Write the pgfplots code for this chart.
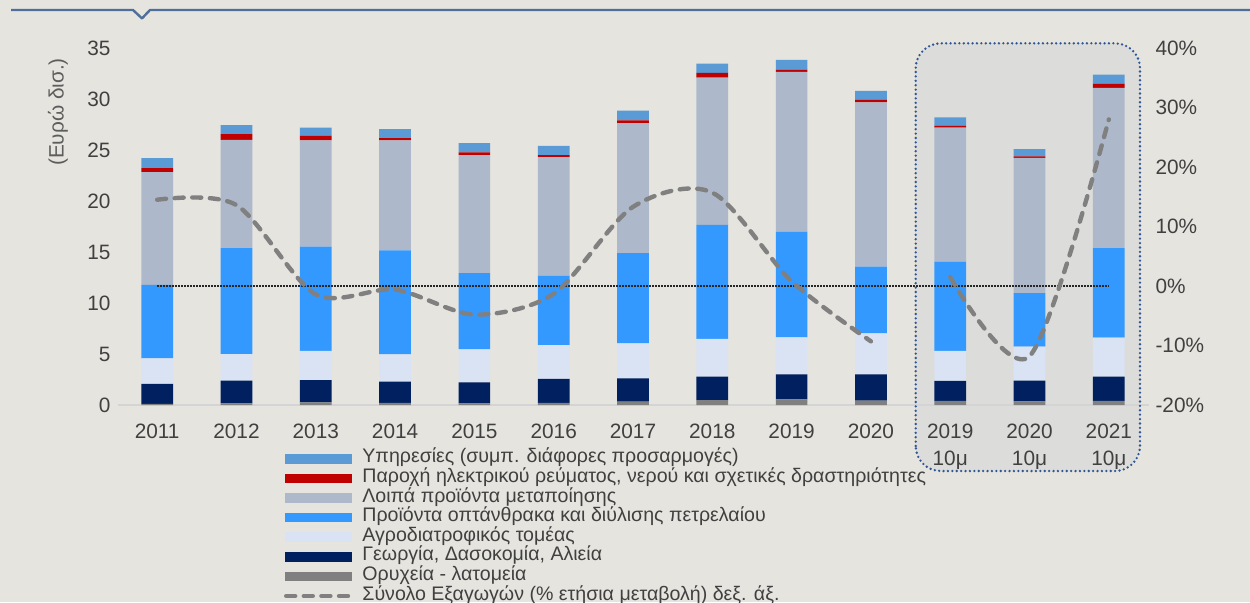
\documentclass[border=0pt]{standalone}
\usepackage{fontspec}
\setmainfont{Liberation Sans}
\usepackage{pgfplots}
\usepackage{pgfplotstable}
\pgfplotsset{compat=1.18}
\definecolor{bg}{HTML}{E5E4DF}
\definecolor{boxfill}{HTML}{DCDDDA}
\definecolor{boxline}{HTML}{2F5597}
\definecolor{topline}{HTML}{4F6F9A}
\definecolor{cServ}{HTML}{5B9BD5}
\definecolor{cElec}{HTML}{C00000}
\definecolor{cOther}{HTML}{ADB9CA}
\definecolor{cOil}{HTML}{3399FF}
\definecolor{cAgro}{HTML}{DAE3F3}
\definecolor{cAgri}{HTML}{002060}
\definecolor{cMin}{HTML}{808080}
\definecolor{cLine}{HTML}{808080}
\definecolor{txt}{HTML}{404040}
\definecolor{axl}{HTML}{D4D4D4}

\pgfplotsset{
  barlegend/.style={legend image code/.code={\path[##1,draw=none] (0pt,-2.4pt) rectangle (33.5pt,2.4pt); \path (37.8pt,0pt);}},
  linelegend/.style={legend image code/.code={\draw[##1] (0.8pt,0pt) -- (33pt,0pt); \path (37.8pt,0pt);}},
}

\pgfplotstableread{
x mining agri agro oil other elec serv
0  0.10 1.96 2.52 7.20 11.05 0.39 0.98
1  0.15 2.24 2.61 10.38 10.62 0.56 0.89
2  0.25 2.20 2.85 10.24 10.40 0.46 0.80
3  0.20 2.09 2.68 10.18 10.79 0.23 0.88
4  0.15 2.07 3.24 7.46 11.58 0.26 0.92
5  0.20 2.35 3.31 6.80 11.64 0.20 0.90
6  0.33 2.29 3.43 8.83 12.76 0.26 0.95
7  0.49 2.29 3.70 11.18 14.44 0.45 0.91
8  0.56 2.45 3.63 10.36 15.65 0.22 0.96
9  0.42 2.59 4.02 6.54 16.10 0.26 0.87
10 0.40 1.96 2.94 8.76 13.14 0.20 0.80
11 0.35 2.04 3.33 5.24 13.28 0.13 0.72
12 0.40 2.38 3.82 8.78 15.70 0.42 0.88
}\bars

\pgfplotstableread{
x chg
0 14.5
1 13.6
2 -1.4
3 -0.6
4 -4.8
5 -1.3
6 13.3
7 15.7
8 0.8
9 -9.3
}\lineA

\pgfplotstableread{
x chg
10 1.5
11 -11.8
12 28.0
}\lineB

\begin{document}
\begin{tikzpicture}[x=1pt,y=1pt]
\fill[bg] (0,0) rectangle (625,301);
% top decorative line
\draw[topline, line width=1.2pt, line join=round] (5.5,296) -- (66.5,296) -- (71,291.8) -- (75,296) -- (625,296);
% highlight box fill
\fill[boxfill, rounded corners=12.5pt] (457.85,65.5) rectangle (570,279.35);

\begin{axis}[
  at={(58.75pt,98.5pt)}, anchor=south west,
  scale only axis, width=515.5pt, height=178.5pt,
  xmin=-0.5, xmax=12.5, ymin=0, ymax=35,
  ybar stacked, bar width=0.4,
  axis line style={draw=none}, major tick length=0pt,
  xtick={0,...,12},
  xticklabels={2011,2012,2013,2014,2015,2016,2017,2018,2019,2020,{2019\\10μ},{2020\\10μ},{2021\\10μ}},
  xticklabel style={align=center, font=\fontsize{10.4}{13.2}\selectfont, text=txt, yshift=-6.2pt},
  ytick={0,5,10,15,20,25,30,35},
  yticklabels={0,5,10,15,20,25,30,35},
  yticklabel style={font=\fontsize{10.4}{12}\selectfont, text=txt},
  clip=false,
  reverse legend,
  legend cell align=left,
  legend style={at={(0.1615,-0.1232)}, anchor=north west, draw=none, fill=none,
    inner sep=0pt, outer sep=0pt, row sep=0pt, column sep=0pt,
    font=\fontsize{9.8}{9.8}\selectfont, text=txt,
    nodes={inner sep=0pt, text height=7pt, text depth=2.8pt}},
  barlegend,
]
\addlegendimage{linelegend, cLine, line width=2.2pt, line cap=round, dash pattern=on 4.5pt off 4.3pt}
\addlegendentry{Σύνολο Εξαγωγών (\% ετήσια μεταβολή) δεξ. άξ.}
\addplot[fill=cMin, draw=none] table[x=x, y=mining]{\bars};
\addlegendentry{Ορυχεία - λατομεία}
\addplot[fill=cAgri, draw=none] table[x=x, y=agri]{\bars};
\addlegendentry{Γεωργία, Δασοκομία, Αλιεία}
\addplot[fill=cAgro, draw=none] table[x=x, y=agro]{\bars};
\addlegendentry{Αγροδιατροφικός τομέας}
\addplot[fill=cOil, draw=none] table[x=x, y=oil]{\bars};
\addlegendentry{Προϊόντα οπτάνθρακα και διύλισης πετρελαίου}
\addplot[fill=cOther, draw=none] table[x=x, y=other]{\bars};
\addlegendentry{Λοιπά προϊόντα μεταποίησης}
\addplot[fill=cElec, draw=none] table[x=x, y=elec]{\bars};
\addlegendentry{Παροχή ηλεκτρικού ρεύματος, νερού και σχετικές δραστηριότητες}
\addplot[fill=cServ, draw=none] table[x=x, y=serv]{\bars};
\addlegendentry{Υπηρεσίες (συμπ. διάφορες προσαρμογές)}
\draw[axl, line width=0.6pt] (axis cs:-0.5,0) -- (axis cs:12.5,0);
\node[rotate=90, text=txt!85, font=\fontsize{10.4}{12}\selectfont] at (rel axis cs:-0.0577,0.8207) {(Ευρώ δισ.)};
\end{axis}

\begin{axis}[
  at={(58.75pt,98.5pt)}, anchor=south west,
  scale only axis, width=515.5pt, height=178.5pt,
  xmin=-0.5, xmax=12.5, ymin=-20, ymax=40,
  axis y line*=right, axis x line=none,
  axis line style={draw=none}, major tick length=0pt,
  ytick={-20,-10,0,10,20,30,40},
  yticklabels={-20\%,-10\%,0\%,10\%,20\%,30\%,40\%},
  yticklabel style={font=\fontsize{10.4}{12}\selectfont, text=txt},
  clip=false,
]
\addplot[black!85, line width=0.7pt, dash pattern=on 0.7pt off 0.8pt] coordinates {(0,0) (12,0)};
\addplot[cLine, line width=2.2pt, line cap=round, dash pattern=on 4.5pt off 4.3pt, smooth] table[x=x, y=chg]{\lineA};
\addplot[cLine, line width=2.2pt, line cap=round, dash pattern=on 4.5pt off 4.3pt, smooth] table[x=x, y=chg]{\lineB};
\end{axis}

\draw[boxline, line width=1.3pt, line cap=round, dash pattern=on 0pt off 2.2pt, rounded corners=12.5pt] (457.85,65.5) rectangle (570,279.35);
\pgfresetboundingbox
\useasboundingbox (0,0) rectangle (625,301);
\end{tikzpicture}
\end{document}
